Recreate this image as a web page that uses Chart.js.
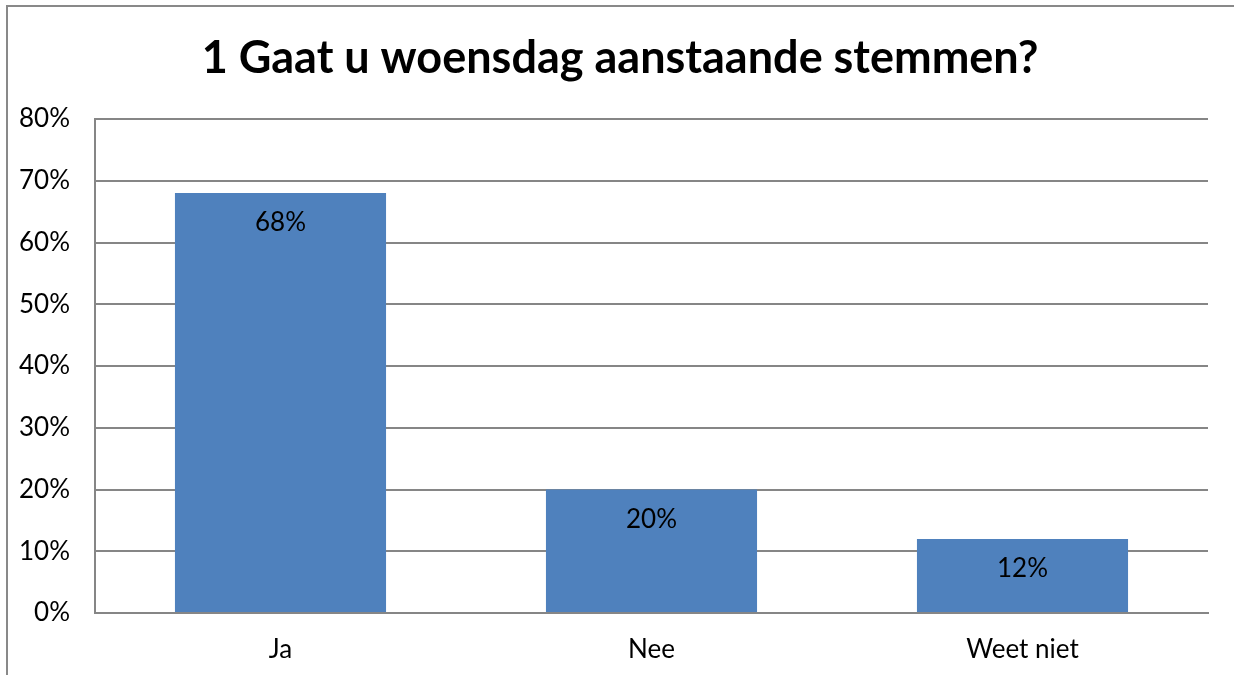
<!DOCTYPE html>
<html>
<head>
<meta charset="utf-8">
<script src="https://cdn.jsdelivr.net/npm/chart.js@4"></script>
<style>
  html, body { margin: 0; padding: 0; background: #fff; }
  #wrap { position: relative; width: 1234px; height: 675px; }
</style>
</head>
<body>
<div id="wrap"><canvas id="poll" width="1234" height="675"></canvas></div>
<script>
// values
const categories = ['Ja', 'Nee', 'Weet niet'];
const percentages = [68, 20, 12];
const yTicks = [0, 10, 20, 30, 40, 50, 60, 70, 80];
const chartTitle = '1 Gaat u woensdag aanstaande stemmen?';

const fontFamily = 'Lato, "Open Sans", sans-serif';

// outer frame + title, like the Excel chart
const framePlugin = {
	id: 'frame',
	afterDraw(chart) {
		const ctx = chart.ctx;
		ctx.save();
		ctx.strokeStyle = '#898989';
		ctx.lineWidth = 2;
		ctx.beginPath();
		ctx.moveTo(7, 675);
		ctx.lineTo(7, 6);
		ctx.lineTo(1234, 6);
		ctx.stroke();

		ctx.font = 'bold 45px ' + fontFamily;
		ctx.fillStyle = '#000';
		ctx.textAlign = 'center';
		ctx.textBaseline = 'middle';
		ctx.fillText(chartTitle, 620, 58);
		ctx.restore();
	}
};

// value labels just inside the top of each bar
const barLabels = {
	id: 'barLabels',
	afterDatasetsDraw(chart) {
		const ctx = chart.ctx;
		const meta = chart.getDatasetMeta(0);
		ctx.save();
		ctx.font = '26px ' + fontFamily;
		ctx.fillStyle = '#000';
		ctx.textAlign = 'center';
		ctx.textBaseline = 'middle';
		meta.data.forEach((bar, i) => {
			ctx.fillText(percentages[i] + '%', bar.x, bar.y + 30);
		});
		ctx.restore();
	}
};

new Chart(document.getElementById('poll'), {
	type: 'bar',
	data: {
		labels: categories,
		datasets: [{
			data: percentages,
			backgroundColor: '#4F81BD',
			borderWidth: 0,
			barPercentage: 0.569,
			categoryPercentage: 1
		}]
	},
	options: {
		responsive: false,
		animation: false,
		layout: { padding: { top: 119, right: 26, bottom: 0, left: 0 } },
		plugins: {
			legend: { display: false },
			tooltip: { enabled: false },
			title: { display: false }
		},
		scales: {
			x: {
				grid: { display: false, drawTicks: false },
				border: { display: true, color: '#868686', width: 2 },
				ticks: { color: '#000', font: { family: fontFamily, size: 26 }, padding: 21 },
				afterFit(scale) { scale.height = 62; }
			},
			y: {
				min: 0,
				max: 80,
				afterBuildTicks(scale) { scale.ticks = yTicks.map(v => ({ value: v })); },
				grid: { color: '#868686', lineWidth: 2, drawTicks: false },
				border: { display: true, color: '#868686', width: 2 },
				ticks: {
					color: '#000',
					font: { family: fontFamily, size: 26 },
					padding: 25,
					callback: v => v + '%'
				},
				afterFit(scale) { scale.width = 95; }
			}
		}
	},
	plugins: [framePlugin, barLabels]
});
</script>
</body>
</html>
